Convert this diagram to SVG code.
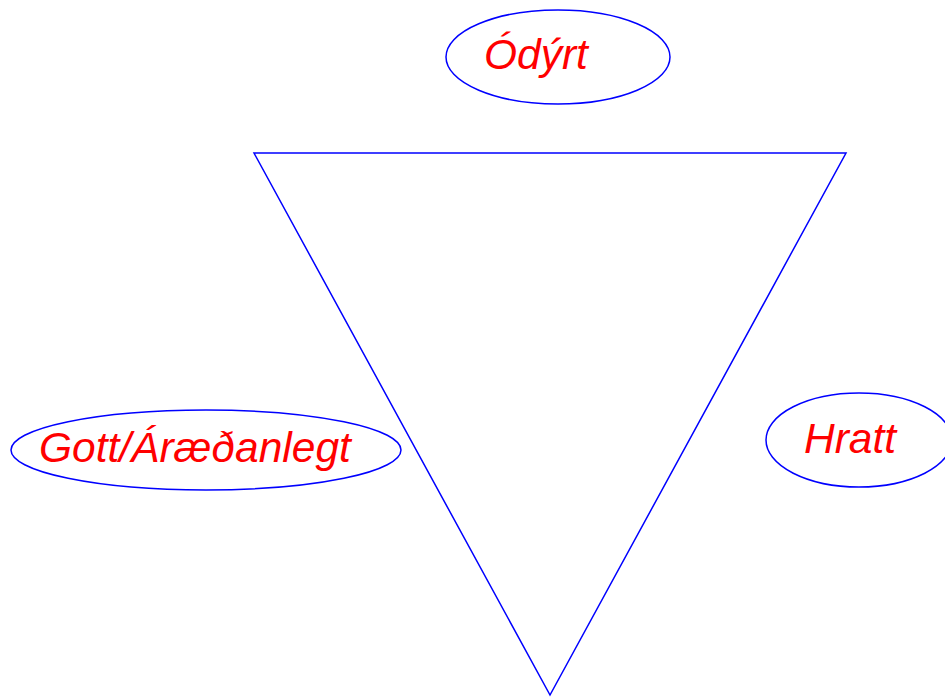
<svg xmlns="http://www.w3.org/2000/svg" width="945" height="697" viewBox="0 0 945 697">
<style>
.shape{fill:none;stroke:#0000ff;stroke-width:1.5}
.lbl{font-family:"Liberation Sans",Arial,sans-serif;font-style:italic;font-size:42.5px;fill:#ff0000}
</style>
<rect width="945" height="697" fill="#ffffff"/>
<g id="connectors">
<polygon class="shape" points="254,153 846,153 550,695"/>
</g>
<g id="node-odyrt">
<ellipse class="shape" cx="558" cy="57" rx="112" ry="47"/>
<text class="lbl" x="484" y="69">Ódýrt</text>
</g>
<g id="node-gott">
<ellipse class="shape" cx="206" cy="450" rx="195" ry="40"/>
<text class="lbl" x="39" y="462">Gott/Áræðanlegt</text>
</g>
<g id="node-hratt">
<ellipse class="shape" cx="859" cy="440" rx="93" ry="47"/>
<text class="lbl" x="804" y="453">Hratt</text>
</g>
</svg>
